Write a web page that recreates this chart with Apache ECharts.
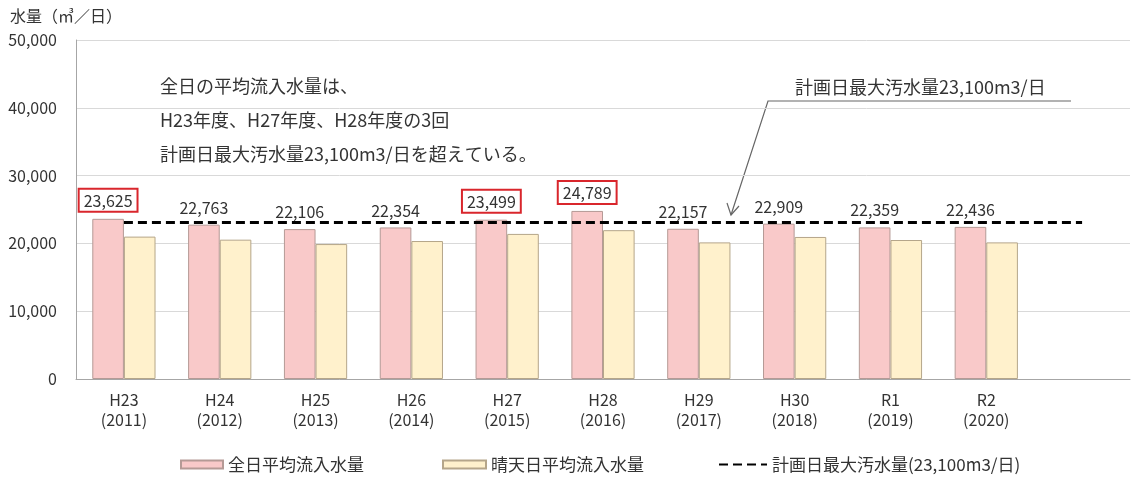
<!DOCTYPE html>
<html><head><meta charset="utf-8">
<script src="https://cdn.jsdelivr.net/npm/echarts@6/dist/echarts.min.js"></script>
<style>html,body{margin:0;padding:0;background:#fff}#c{width:1133px;height:477px}</style>
</head><body><div id="c"></div>
<script>
const categories = ['H23\n(2011)','H24\n(2012)','H25\n(2013)','H26\n(2014)','H27\n(2015)','H28\n(2016)','H29\n(2017)','H30\n(2018)','R1\n(2019)','R2\n(2020)',''];
const allDayAvg = [23625,22763,22106,22354,23499,24789,22157,22909,22359,22436];
const fineDayAvg = [21000,20550,19900,20350,21400,21950,20150,20950,20500,20150];
const planMax = [23100,23100,23100,23100,23100,23100,23100,23100,23100,23100,23100];
const highlighted = [0,4,5];
const yTicks = [0,10000,20000,30000,40000,50000];
const FONT = '"Noto Sans CJK JP","Noto Sans",sans-serif';
const TXT = '#333';

const pinkData = allDayAvg.map((v,i)=> highlighted.includes(i) ? {
  value:v,
  label:{borderColor:'#d9262c',borderWidth:2,padding:[4,5,3,5],distance:7}
} : v);

const chart = echarts.init(document.getElementById('c'));
chart.setOption({
  animation:false,
  textStyle:{fontFamily:FONT},
  grid:{left:76,right:3,top:40,bottom:98,containLabel:false},
  xAxis:{
    type:'category',data:categories,
    axisLine:{lineStyle:{color:'#a6a6a6'}},
    axisTick:{show:false},
    axisLabel:{color:TXT,fontSize:16,fontFamily:FONT,lineHeight:20,margin:11,interval:0}
  },
  yAxis:{
    type:'value',min:yTicks[0],max:yTicks[yTicks.length-1],interval:10000,
    axisLine:{show:true,lineStyle:{color:'#a6a6a6'}},
    axisTick:{show:false},
    splitLine:{lineStyle:{color:'#d9d9d9'}},
    axisLabel:{color:TXT,fontSize:16,fontFamily:FONT,margin:19,
      formatter:v=>v.toLocaleString('en-US')}
  },
  legend:[
    {data:[{name:'全日平均流入水量',icon:'rect'}],left:175,top:451,itemWidth:42,itemHeight:8,
      textStyle:{color:TXT,fontSize:17,fontFamily:FONT}},
    {data:[{name:'晴天日平均流入水量',icon:'rect'}],left:437,top:451,itemWidth:43,itemHeight:8,
      textStyle:{color:TXT,fontSize:17,fontFamily:FONT}},
    {data:[{name:'計画日最大汚水量(23,100m3/日)'}],left:713,top:451,itemWidth:48,itemHeight:12,
      itemStyle:{opacity:0},
      textStyle:{color:TXT,fontSize:17,fontFamily:FONT}}
  ],
  series:[
    {name:'全日平均流入水量',type:'bar',data:pinkData,barGap:'0%',barCategoryGap:'34%',
      itemStyle:{color:'#f9c9c9',borderColor:'#b59a96',borderWidth:1},
      label:{show:true,position:'top',distance:9,color:'#333',fontSize:16,fontFamily:FONT,
        formatter:p=>p.value.toLocaleString('en-US')}},
    {name:'晴天日平均流入水量',type:'bar',data:fineDayAvg,
      itemStyle:{color:'#fff1cc',borderColor:'#b5a68a',borderWidth:1}},
    {name:'計画日最大汚水量(23,100m3/日)',type:'line',data:planMax,symbol:'none',z:5,
      lineStyle:{color:'#000',width:3,type:[9,5]},itemStyle:{color:'#000'}}
  ],
  graphic:[
    {type:'text',left:10,top:8,style:{text:'水量（㎥／日）',fill:TXT,font:'16px '+FONT}},
    {type:'text',left:160,top:77,style:{text:'全日の平均流入水量は、',fill:'#333',font:'18px '+FONT}},
    {type:'text',left:160,top:111,style:{text:'H23年度、H27年度、H28年度の3回',fill:'#333',font:'18px '+FONT}},
    {type:'text',left:160,top:145,style:{text:'計画日最大汚水量23,100m3/日を超えている。',fill:'#333',font:'18px '+FONT}},
    {type:'text',left:795,top:78,style:{text:'計画日最大汚水量23,100m3/日',fill:'#333',font:'18px '+FONT}},
    {type:'polyline',shape:{points:[[1071,101],[768,101],[731,215]]},style:{stroke:'#666',lineWidth:1.2,fill:null}},
    {type:'polyline',shape:{points:[[727,203],[731,215],[739,206]]},style:{stroke:'#666',lineWidth:1.2,fill:null}}
  ]
});
</script>
</body></html>
